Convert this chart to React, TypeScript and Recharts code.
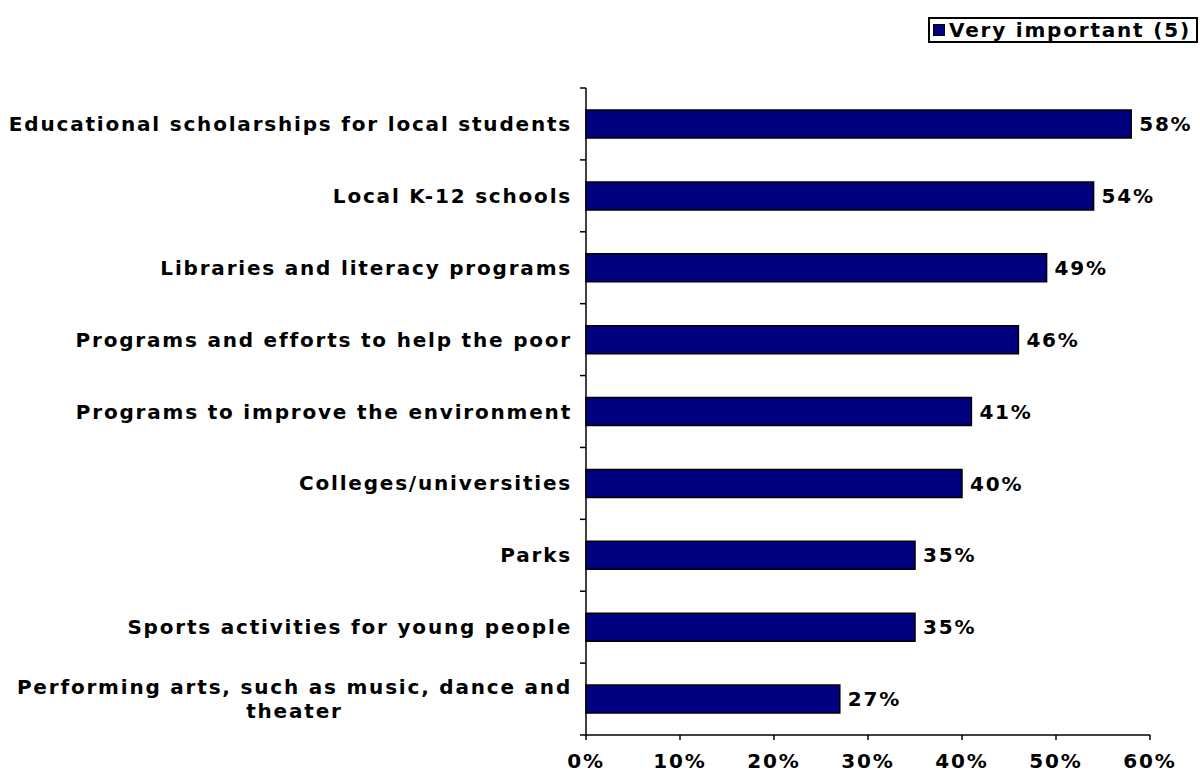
import { BarChart, Bar, XAxis, YAxis, LabelList } from 'recharts';

const categories = [
  'Educational scholarships for local students',
  'Local K-12 schools',
  'Libraries and literacy programs',
  'Programs and efforts to help the poor',
  'Programs to improve the environment',
  'Colleges/universities',
  'Parks',
  'Sports activities for young people',
  'Performing arts, such as music, dance and theater',
];
const veryImportant = [58, 54, 49, 46, 41, 40, 35, 35, 27];
const xTicks = [0, 10, 20, 30, 40, 50, 60];
const seriesName = 'Very important (5)';

const data = categories.map((name, i) => ({ name, value: veryImportant[i] }));

const FONT = '"DejaVu Sans", Verdana, sans-serif';
const FONT_SIZE = 20;
const SPACING = 1.8;
const NAVY = '#000080';

const textStyle = {
  fill: '#000',
  fontFamily: FONT,
  fontWeight: 'bold',
  fontSize: FONT_SIZE,
  letterSpacing: SPACING,
};

let ctx: CanvasRenderingContext2D | null = null;
const measure = (s: string) => {
  if (!ctx) ctx = document.createElement('canvas').getContext('2d');
  if (!ctx) return s.length * (FONT_SIZE * 0.57 + SPACING);
  ctx.font = `bold ${FONT_SIZE}px ${FONT}`;
  (ctx as any).letterSpacing = `${SPACING}px`;
  return ctx.measureText(s).width;
};

const wrap = (s: string, max: number) => {
  const words = s.split(' ');
  const lines: string[] = [];
  let cur = '';
  words.forEach((w) => {
    const next = cur ? `${cur} ${w}` : w;
    if (measure(next) > max && cur) {
      lines.push(cur);
      cur = w;
    } else {
      cur = next;
    }
  });
  if (cur) lines.push(cur);
  return lines;
};

const CategoryTick = (props: any) => {
  const { x, y, payload, index, visibleTicksCount } = props;
  const half = payload?.offset ?? 36;
  const lines = wrap(String(payload.value), 570);
  const widest = Math.max(...lines.map(measure));
  const tx = x - 14;
  const lineH = 24;
  const startY = y - ((lines.length - 1) * lineH) / 2;
  const last = index === (visibleTicksCount ?? categories.length) - 1;
  const multi = lines.length > 1;
  const lx = multi ? tx - widest / 2 : tx;
  return (
    <g>
      <line x1={x - 6} x2={x} y1={y - half} y2={y - half} stroke="#000" strokeWidth={1.5} />
      {last && <line x1={x - 6} x2={x} y1={y + half} y2={y + half} stroke="#000" strokeWidth={1.5} />}
      <text
        x={lx}
        y={startY}
        textAnchor={multi ? 'middle' : 'end'}
        dominantBaseline="central"
        style={textStyle}
      >
        {lines.map((l, i) => (
          <tspan key={i} x={lx} y={startY + i * lineH}>
            {l}
          </tspan>
        ))}
      </text>
    </g>
  );
};

const LegendBox = () => (
  <div
    style={{
      position: 'absolute',
      left: 928,
      top: 17,
      width: 270,
      border: '2px solid #000',
      boxSizing: 'border-box',
      padding: '0 0 0 3px',
      height: 26,
      display: 'flex',
      alignItems: 'center',
      fontFamily: FONT,
      fontWeight: 'bold',
      fontSize: FONT_SIZE,
      letterSpacing: SPACING,
      whiteSpace: 'nowrap',
      overflow: 'hidden',
      background: '#fff',
    }}
  >
    <span
      style={{
        display: 'inline-block',
        width: 10,
        height: 10,
        background: NAVY,
        border: '1px solid #000',
        marginRight: 4,
        flex: 'none',
      }}
    />
    {seriesName}
  </div>
);

export default function App() {
  return (
    <div style={{ position: 'absolute', left: 0, top: 0, width: 1200, height: 774, background: '#fff' }}>
      <BarChart
        width={1200}
        height={774}
        data={data}
        layout="vertical"
        margin={{ top: 88, right: 50, bottom: 0, left: 0 }}
        barSize={28}
      >
        <XAxis
          type="number"
          domain={[0, 60]}
          ticks={xTicks}
          tickFormatter={(v) => `${v}%`}
          height={39}
          axisLine={{ stroke: '#000', strokeWidth: 1.5 }}
          tickLine={{ stroke: '#000', strokeWidth: 1.5 }}
          tickSize={5}
          tickMargin={14}
          tick={textStyle}
          interval={0}
        />
        <YAxis
          type="category"
          dataKey="name"
          width={586}
          axisLine={{ stroke: '#000', strokeWidth: 1.5 }}
          tickLine={false}
          tickSize={0}
          tickMargin={0}
          tick={<CategoryTick />}
          interval={0}
        />
        <Bar dataKey="value" name={seriesName} fill={NAVY} stroke="#000" strokeWidth={1.5} isAnimationActive={false}>
          <LabelList
            dataKey="value"
            position="right"
            offset={8}
            formatter={(v: any) => `${v}%`}
            style={textStyle}
          />
        </Bar>
      </BarChart>
      <LegendBox />
    </div>
  );
}
